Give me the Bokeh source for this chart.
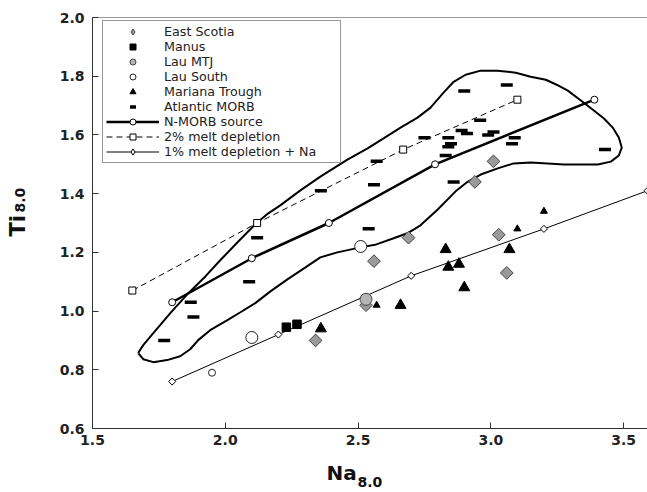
import numpy as np
from bokeh.plotting import figure
from bokeh.layouts import row, column
from bokeh.models import (Range1d, FixedTicker, Legend, LegendItem, Label, Span,
                          ColumnDataSource, NumeralTickFormatter)
from bokeh.embed import file_html
from bokeh.resources import INLINE

# ---------------- data ----------------
east_scotia_na = [2.34, 2.53, 2.56, 2.69, 2.94, 3.01, 3.03, 3.06]
east_scotia_ti = [0.90, 1.02, 1.17, 1.25, 1.44, 1.51, 1.26, 1.13]

manus_na = [2.23, 2.27]
manus_ti = [0.945, 0.955]

lau_mtj_na = [2.53]
lau_mtj_ti = [1.04]

lau_south_na = [1.95, 2.10, 2.51]
lau_south_ti = [0.79, 0.91, 1.22]
lau_south_big = [0, 1, 1]

mariana_na = [2.57, 3.10, 3.20, 2.36, 2.66, 2.83, 2.84, 2.88, 2.90, 3.07]
mariana_ti = [1.02, 1.28, 1.34, 0.94, 1.02, 1.21, 1.15, 1.16, 1.08, 1.21]
mariana_big = [0, 0, 0, 1, 1, 1, 1, 1, 1, 1]

atlantic_na = [1.77, 1.87, 1.88, 2.09, 2.12, 2.36, 2.54, 2.56, 2.57, 2.75, 2.83,
               2.84, 2.85, 2.84, 2.86, 2.89, 2.91, 2.90, 2.96, 2.99, 3.01, 3.06,
               3.08, 3.09, 3.43]
atlantic_ti = [0.90, 1.03, 0.98, 1.10, 1.25, 1.41, 1.28, 1.43, 1.51, 1.59, 1.53,
               1.59, 1.57, 1.56, 1.44, 1.615, 1.605, 1.75, 1.65, 1.60, 1.61, 1.77,
               1.57, 1.59, 1.55]

nmorb_na = [1.80, 2.10, 2.39, 2.79, 3.39]
nmorb_ti = [1.03, 1.18, 1.30, 1.50, 1.72]

dep2_na = [1.65, 2.12, 2.67, 3.10]
dep2_ti = [1.07, 1.30, 1.55, 1.72]

dep1_na = [1.80, 2.20, 2.70, 3.20, 3.59]
dep1_ti = [0.76, 0.92, 1.12, 1.28, 1.41]

# hand-drawn MORB envelope (traced outline)
envelope_na = [1.672, 1.691, 1.729, 1.793, 1.861, 1.925, 1.981, 2.049, 2.117, 2.162,
               2.207, 2.283, 2.358, 2.460, 2.536, 2.596, 2.660, 2.724, 2.773, 2.822,
               2.860, 2.905, 2.962, 3.026, 3.094, 3.150, 3.207, 3.248, 3.290, 3.339,
               3.388, 3.426, 3.459, 3.482, 3.493, 3.482, 3.452, 3.403, 3.339, 3.275,
               3.214, 3.150, 3.086, 3.026, 2.962, 2.909, 2.871, 2.800, 2.735, 2.686,
               2.634, 2.569, 2.509, 2.422, 2.358, 2.302, 2.234, 2.170, 2.113, 2.057,
               2.008, 1.943, 1.898, 1.868, 1.830, 1.781, 1.729, 1.691, 1.672]
envelope_ti = [0.857, 0.884, 0.925, 0.993, 1.061, 1.118, 1.173, 1.237, 1.299, 1.333,
               1.360, 1.411, 1.458, 1.516, 1.554, 1.588, 1.625, 1.659, 1.693, 1.744,
               1.781, 1.805, 1.819, 1.819, 1.812, 1.798, 1.788, 1.771, 1.751, 1.717,
               1.683, 1.656, 1.625, 1.591, 1.557, 1.530, 1.509, 1.499, 1.499, 1.499,
               1.503, 1.506, 1.503, 1.486, 1.465, 1.438, 1.411, 1.346, 1.292, 1.265,
               1.248, 1.227, 1.217, 1.200, 1.183, 1.149, 1.108, 1.067, 1.027, 0.996,
               0.969, 0.935, 0.901, 0.870, 0.846, 0.833, 0.826, 0.836, 0.857]

x_ticks = [1.5, 2.0, 2.5, 3.0, 3.5]
y_ticks = [0.6, 0.8, 1.0, 1.2, 1.4, 1.6, 1.8, 2.0]

x_title, x_sub = "Na", "8.0"
y_title, y_sub = "Ti", "8.0"

# ---------------- layout sizes ----------------
FONT = "DejaVu Sans"
W, H = 647, 492
YLAB_W = 40
MAIN_H = 456
XLAB_H = H - MAIN_H

# ---------------- main figure ----------------
p = figure(width=W - YLAB_W, height=MAIN_H, output_backend="svg", toolbar_location=None,
           x_range=Range1d(1.5, 3.59), y_range=Range1d(0.6, 2.0),
           min_border_left=52, min_border_right=0, min_border_top=17,
           min_border_bottom=28, title=None)
p.background_fill_color = "white"
p.border_fill_color = "white"
p.outline_line_color = None
p.xgrid.grid_line_color = None
p.ygrid.grid_line_color = None

for ax, ticks in ((p.xaxis[0], x_ticks), (p.yaxis[0], y_ticks)):
    ax.ticker = FixedTicker(ticks=ticks)
    ax.formatter = NumeralTickFormatter(format="0.0")
    ax.minor_tick_line_color = None
    ax.major_tick_in = 6
    ax.major_tick_out = 0
    ax.axis_line_color = "#333333"
    ax.major_tick_line_color = "#333333"
    ax.major_label_text_font = FONT
    ax.major_label_text_font_style = "bold"
    ax.major_label_text_font_size = "14px"
    ax.major_label_text_color = "#222222"
p.xaxis.major_label_standoff = 6
p.yaxis.major_label_standoff = 8

p.add_layout(Span(location=2.0, dimension="width", line_color="#333333", line_width=1))

# envelope
p.line(envelope_na, envelope_ti, line_color="black", line_width=2)

# model lines
r_n_line = p.line(nmorb_na, nmorb_ti, line_color="black", line_width=2.5)
r_n_pts = p.scatter(nmorb_na, nmorb_ti, marker="circle", size=7, fill_color="white",
                    line_color="black", line_width=1)
r_2_line = p.line(dep2_na, dep2_ti, line_color="black", line_width=1, line_dash="6 4")
r_2_pts = p.scatter(dep2_na, dep2_ti, marker="square", size=7, fill_color="white",
                    line_color="black", line_width=1)
r_1_line = p.line(dep1_na, dep1_ti, line_color="black", line_width=1)

# diamond key glyphs for the legend (hidden under the first sample of the group)
lg_d1 = p.scatter(dep1_na[:1], dep1_ti[:1], marker="diamond", size=7, fill_color="white",
                  line_color="black", line_width=1)
lg_es = p.scatter(east_scotia_na[:1], east_scotia_ti[:1], marker="diamond", size=12,
                  fill_color="#9a9a9a", line_color="#444444", line_width=1)

r_1_pts = p.scatter(dep1_na, dep1_ti, marker="square", angle=np.pi / 4, size=5,
                    fill_color="white", line_color="black", line_width=1)

# samples
r_atl = p.scatter(atlantic_na, atlantic_ti, marker="dash", size=12, line_width=3.5,
                  line_color="black", line_cap="butt")
p.scatter(east_scotia_na, east_scotia_ti, marker="square", angle=np.pi / 4,
          size=9, fill_color="#9a9a9a", line_color="#444444", line_width=1)
r_manus = p.scatter(manus_na, manus_ti, marker="square", size=8.5, fill_color="black",
                    line_color="black")
src_ls = ColumnDataSource(dict(x=lau_south_na, y=lau_south_ti,
                               s=[12 if b else 7 for b in lau_south_big]))
r_ls = p.scatter("x", "y", size="s", source=src_ls, marker="circle",
                 fill_color="white", line_color="#222222", line_width=1)
r_mtj = p.scatter(lau_mtj_na, lau_mtj_ti, marker="circle", size=12,
                  fill_color="#b5b5b5", line_color="#444444", line_width=1)
src_mar = ColumnDataSource(dict(x=mariana_na, y=mariana_ti,
                                s=[11 if b else 7 for b in mariana_big]))
r_mar = p.scatter("x", "y", size="s", source=src_mar, marker="triangle",
                  fill_color="black", line_color="black")

legend = Legend(items=[
    LegendItem(label="East Scotia", renderers=[lg_es]),
    LegendItem(label="Manus", renderers=[r_manus]),
    LegendItem(label="Lau MTJ", renderers=[r_mtj]),
    LegendItem(label="Lau South", renderers=[r_ls], index=0),
    LegendItem(label="Mariana Trough", renderers=[r_mar], index=0),
    LegendItem(label="Atlantic MORB", renderers=[r_atl]),
    LegendItem(label="N-MORB source", renderers=[r_n_line, r_n_pts]),
    LegendItem(label="2% melt depletion", renderers=[r_2_line, r_2_pts]),
    LegendItem(label="1% melt depletion + Na", renderers=[r_1_line, lg_d1]),
], location=(10, 265))
legend.padding = 3
legend.spacing = 0
legend.glyph_width = 53
legend.glyph_height = 15
legend.label_height = 15
legend.label_standoff = 5
legend.label_width = 173
legend.label_text_font = FONT
legend.label_text_font_size = "12.7px"
legend.label_text_color = "#222222"
legend.border_line_color = "#333333"
legend.border_line_width = 1
legend.background_fill_color = "white"
legend.background_fill_alpha = 1
p.add_layout(legend)


def label_fig(width, height):
    f = figure(width=width, height=height, output_backend="svg", toolbar_location=None,
               x_range=Range1d(0, 1), y_range=Range1d(0, 1), x_axis_type=None,
               y_axis_type=None, min_border=0, title=None)
    f.outline_line_color = None
    f.xgrid.grid_line_color = None
    f.ygrid.grid_line_color = None
    f.background_fill_color = "white"
    f.border_fill_color = "white"
    return f


lab_style = dict(text_font=FONT, text_font_style="bold", text_color="#111111",
                 x_units="screen", y_units="screen", text_baseline="alphabetic",
                 text_align="left")

# x-axis title (below the main figure)
fx = label_fig(W - YLAB_W, XLAB_H)
fx.add_layout(Label(x=234, y=20, text=x_title, text_font_size="20px", **lab_style))
fx.add_layout(Label(x=265, y=11, text=x_sub, text_font_size="14px", **lab_style))

# y-axis title (left of the main figure)
fy = label_fig(YLAB_W, H)
fy.add_layout(Label(x=17, y=256, text=y_title, angle=np.pi / 2, text_font_size="21px",
                    **lab_style))
fy.add_layout(Label(x=19, y=280, text=y_sub, angle=np.pi / 2, text_font_size="14px",
                    **lab_style))

layout = row(fy, column(p, fx, spacing=0), spacing=0)

open("out.html", "w").write(file_html(layout, INLINE))
